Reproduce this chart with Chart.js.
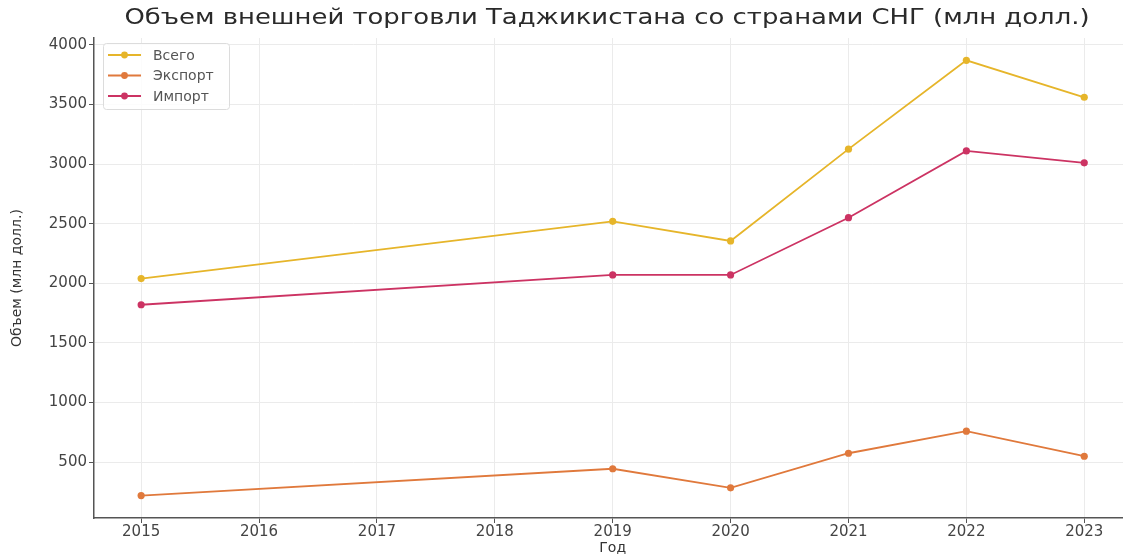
<!DOCTYPE html>
<html>
<head>
<meta charset="utf-8">
<script src="https://cdn.jsdelivr.net/npm/chart.js@4.4.1/dist/chart.umd.min.js"></script>
<style>
  html, body { margin: 0; padding: 0; background: #fff; overflow: hidden; }
  #wrap { width: 1135px; height: 555px; }
</style>
</head>
<body>
<div id="wrap"><canvas id="c" width="1135" height="555"></canvas></div>
<script>
const titleText = 'Объем внешней торговли Таджикистана со странами СНГ (млн долл.)';
const xTitle = 'Год';
const yTitle = 'Объем (млн долл.)';
const years = [2015, 2019, 2020, 2021, 2022, 2023];
const seriesNames = ['Всего', 'Экспорт', 'Импорт'];
const totalVals = [2040, 2520, 2355, 3125, 3870, 3560];
const exportVals = [220, 445, 285, 575, 760, 550];
const importVals = [1820, 2070, 2070, 2550, 3110, 3010];
const xTicks = [2015, 2016, 2017, 2018, 2019, 2020, 2021, 2022, 2023];
const yTicks = [500, 1000, 1500, 2000, 2500, 3000, 3500, 4000];
const colors = ['#E6B52A', '#E0793C', '#CC3363'];

const toPts = vals => years.map((y, i) => ({ x: y, y: vals[i] }));
const seriesVals = [totalVals, exportVals, importVals];

const datasets = seriesNames.map((name, i) => ({
  label: name,
  data: toPts(seriesVals[i]),
  borderColor: colors[i],
  backgroundColor: colors[i],
  borderWidth: 1.8,
  pointRadius: 3.6,
  pointHoverRadius: 3.6,
  pointBorderWidth: 0,
  tension: 0
}));

const titleAndLegend = {
  id: 'titleAndLegend',
  afterDraw(chart) {
    const ctx = chart.ctx;
    const ca = chart.chartArea;
    ctx.save();
    // title (horizontally stretched like the reference)
    ctx.fillStyle = '#2a2a2a';
    ctx.font = '21px "DejaVu Sans"';
    ctx.textAlign = 'center';
    ctx.textBaseline = 'middle';
    const w = ctx.measureText(titleText).width;
    const sx = 965 / w;
    ctx.translate(607, 19);
    ctx.scale(sx, 1);
    ctx.fillText(titleText, 0, 0);
    ctx.setTransform(1, 0, 0, 1, 0, 0);
    // legend
    const lx = ca.left + 9, ly = ca.top + 5, lw = 126, lh = 66;
    ctx.fillStyle = 'rgba(255,255,255,0.85)';
    ctx.strokeStyle = '#dcdcdc';
    ctx.lineWidth = 1;
    ctx.beginPath();
    if (ctx.roundRect) ctx.roundRect(lx + 0.5, ly + 0.5, lw, lh, 3); else ctx.rect(lx + 0.5, ly + 0.5, lw, lh);
    ctx.fill();
    ctx.stroke();
    ctx.font = '14px "DejaVu Sans"';
    ctx.textAlign = 'left';
    ctx.textBaseline = 'middle';
    chart.data.datasets.forEach((ds, i) => {
      const y = ly + 12 + i * 20.5;
      ctx.strokeStyle = ds.borderColor;
      ctx.lineWidth = 1.8;
      ctx.beginPath();
      ctx.moveTo(lx + 5, y);
      ctx.lineTo(lx + 38, y);
      ctx.stroke();
      ctx.fillStyle = ds.borderColor;
      ctx.beginPath();
      ctx.arc(lx + 21.5, y, 3.4, 0, Math.PI * 2);
      ctx.fill();
      ctx.fillStyle = '#555';
      ctx.fillText(ds.label, lx + 50, y + 1);
    });
    ctx.restore();
  }
};

new Chart(document.getElementById('c'), {
  type: 'line',
  data: { datasets },
  plugins: [titleAndLegend],
  options: {
    responsive: false,
    animation: false,
    layout: { padding: { top: 38, right: 3, left: 0, bottom: 0 } },
    plugins: {
      legend: { display: false },
      title: { display: false },
      tooltip: { enabled: false }
    },
    scales: {
      x: {
        type: 'linear',
        min: 2014.6,
        max: 2023.4,
        afterBuildTicks: s => { s.ticks = xTicks.map(v => ({ value: v })); },
        afterFit: s => { s.height = 37; },
        ticks: {
          color: '#444',
          font: { family: 'DejaVu Sans', size: 15 },
          padding: 0,
          maxRotation: 0,
          callback: v => String(v)
        },
        grid: { color: '#ebebeb', lineWidth: 1, tickLength: 5, tickColor: '#555', drawTicks: true },
        border: { display: true, color: '#555', width: 1.5 },
        title: { display: true, text: xTitle, color: '#333', font: { family: 'DejaVu Sans', size: 14, lineHeight: 1.0 }, padding: { top: 0, bottom: 0 } }
      },
      y: {
        type: 'linear',
        min: 32,
        max: 4057,
        afterBuildTicks: s => { s.ticks = yTicks.map(v => ({ value: v })); },
        afterFit: s => { s.width = 94; },
        ticks: {
          color: '#444',
          font: { family: 'DejaVu Sans', size: 15 },
          padding: 2,
          callback: v => String(v)
        },
        grid: { color: '#ebebeb', lineWidth: 1, tickLength: 5, tickColor: '#555', drawTicks: true },
        border: { display: true, color: '#555', width: 1.5 },
        title: { display: true, text: yTitle, color: '#333', font: { family: 'DejaVu Sans', size: 14 }, padding: { top: 9, bottom: 6 } }
      }
    }
  }
});
</script>
</body>
</html>
